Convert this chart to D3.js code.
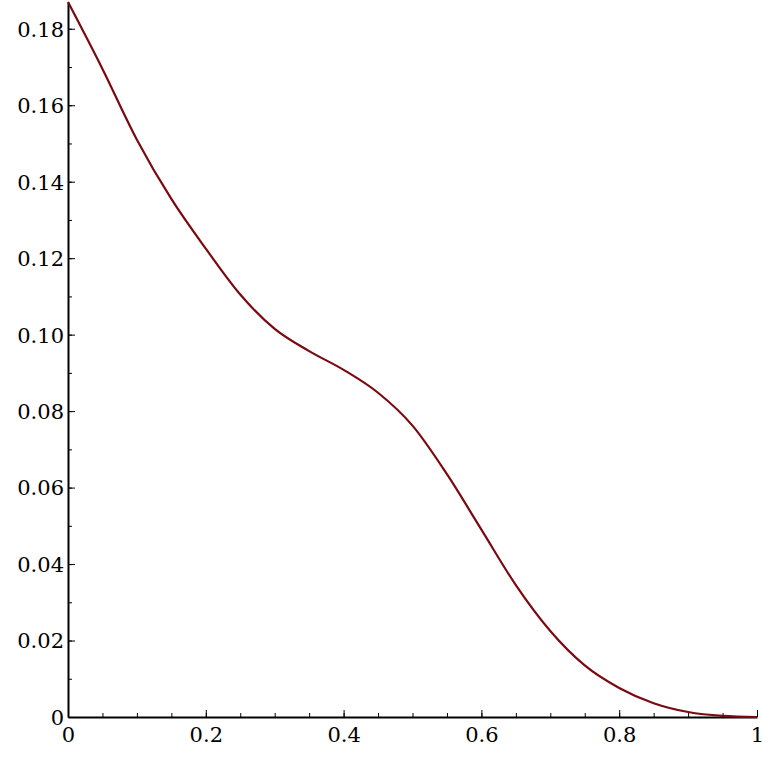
<!DOCTYPE html>
<html><head><meta charset="utf-8">
<script src="https://cdn.jsdelivr.net/npm/d3@7"></script>
<style>body{margin:0;background:#fff}svg text{font-family:"DejaVu Serif",serif;font-size:21px;fill:#000}</style>
</head><body>
<script>
const xs = [0,0.05,0.1,0.15,0.2,0.25,0.3,0.35,0.4,0.45,0.5,0.55,0.6,0.65,0.7,0.75,0.8,0.85,0.9,0.95,1];
const ys = [0.187,0.1695,0.151,0.1355,0.1225,0.1105,0.1015,0.0957,0.0908,0.0848,0.0762,0.0635,0.049,0.0345,0.0225,0.0135,0.0076,0.0036,0.0013,0.0003,0];
const xTicks = [0,0.2,0.4,0.6,0.8,1];
const xTickLabels = ["0","0.2","0.4","0.6","0.8","1"];
const yTicks = [0,0.02,0.04,0.06,0.08,0.10,0.12,0.14,0.16,0.18];
const yTickLabels = ["0","0.02","0.04","0.06","0.08","0.10","0.12","0.14","0.16","0.18"];

const W=763,H=758;
const svg=d3.select("body").append("svg").attr("width",W).attr("height",H);
const x=d3.scaleLinear().domain([0,1]).range([68,757]);
const y=d3.scaleLinear().domain([0,0.187]).range([717,2]);

const xa=svg.append("g").attr("transform","translate(0,717)")
 .call(d3.axisBottom(x).tickValues(xTicks).tickFormat((d,i)=>xTickLabels[i]).tickSize(0).tickPadding(10));
xa.select(".domain").attr("stroke","#000").attr("stroke-width",2);
const xm=svg.append("g").attr("transform","translate(0,717)")
 .call(d3.axisBottom(x).tickValues(d3.range(0,1.001,0.05)).tickFormat("").tickSize(-4));
xm.select(".domain").remove();
const xM=svg.append("g").attr("transform","translate(0,717)")
 .call(d3.axisBottom(x).tickValues(xTicks).tickFormat("").tickSize(-7));
xM.select(".domain").remove();

const ya=svg.append("g").attr("transform","translate(68,0)")
 .call(d3.axisLeft(y).tickValues(yTicks).tickFormat((d,i)=>yTickLabels[i]).tickSize(0).tickPadding(4));
ya.select(".domain").attr("stroke","#000").attr("stroke-width",2);
const ym=svg.append("g").attr("transform","translate(68,0)")
 .call(d3.axisLeft(y).tickValues(d3.range(0,0.1801,0.01)).tickFormat("").tickSize(-4));
ym.select(".domain").remove();
const yM=svg.append("g").attr("transform","translate(68,0)")
 .call(d3.axisLeft(y).tickValues(yTicks).tickFormat("").tickSize(-7));
yM.select(".domain").remove();
ya.selectAll("text").attr("dy","0.35em");

svg.append("path").datum(xs.map((v,i)=>[v,ys[i]]))
 .attr("fill","none").attr("stroke","#7a0a10").attr("stroke-width",2.2)
 .attr("d",d3.line().x(d=>x(d[0])).y(d=>y(d[1])).curve(d3.curveMonotoneX));
</script>
</body></html>
